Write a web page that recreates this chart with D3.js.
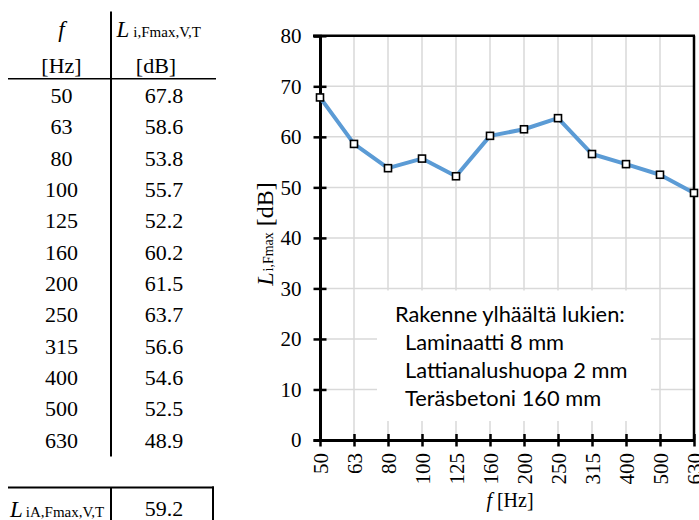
<!DOCTYPE html>
<html><head><meta charset="utf-8">
<script src="https://cdn.jsdelivr.net/npm/d3@7"></script>
<style>body{margin:0;background:#fff}</style>
</head><body>
<svg id="c" width="699" height="520"></svg>
<script>
const freqs = ["50","63","80","100","125","160","200","250","315","400","500","630"];
const levels = [67.8,58.6,53.8,55.7,52.2,60.2,61.5,63.7,56.6,54.6,52.5,48.9];
const levelLabels = ["67.8","58.6","53.8","55.7","52.2","60.2","61.5","63.7","56.6","54.6","52.5","48.9"];
const totalLabel = "59.2";
const yTicks = [0,10,20,30,40,50,60,70,80];
const noteLines = ["Rakenne ylhäältä lukien:","Laminaatti 8 mm","Lattianalushuopa 2 mm","Teräsbetoni 160 mm"];

const serif = "'Liberation Serif','Times New Roman',serif";
const sans = "Lato,'Open Sans',sans-serif";
const svg = d3.select("#c");

// ---------- table ----------
const T = svg.append("g").attr("font-family", serif).attr("fill", "#000");
const rowY = d3.scalePoint().domain(freqs).range([103, 447.5]);
const c1 = 61.5, c2 = 164;
T.append("text").attr("x", c1).attr("y", 37).attr("text-anchor","middle").attr("font-size",23).attr("font-style","italic").text("f");
const h2 = T.append("text").attr("x", 116.5).attr("y", 37).attr("font-size",23);
h2.append("tspan").attr("font-style","italic").text("L");
h2.append("tspan").attr("font-size",15).attr("dx",4).text("i,Fmax,V,T");
T.append("text").attr("x", c1).attr("y", 73).attr("text-anchor","middle").attr("font-size",22).text("[Hz]");
T.append("text").attr("x", 156).attr("y", 73).attr("text-anchor","middle").attr("font-size",22).text("[dB]");
T.selectAll(".f").data(freqs).join("text").attr("class","f")
  .attr("x", c1).attr("y", d => rowY(d)).attr("text-anchor","middle").attr("font-size",22).text(d => d);
T.selectAll(".v").data(levelLabels).join("text").attr("class","v")
  .attr("x", c2).attr("y", (d,i) => rowY(freqs[i])).attr("text-anchor","middle").attr("font-size",22).text(d => d);
T.append("line").attr("x1",111).attr("x2",111).attr("y1",11.5).attr("y2",456.5).attr("stroke","#000").attr("stroke-width",2);
T.append("line").attr("x1",8).attr("x2",216).attr("y1",78.7).attr("y2",78.7).attr("stroke","#000").attr("stroke-width",1.6);
// total row
T.append("line").attr("x1",8).attr("x2",214).attr("y1",487.5).attr("y2",487.5).attr("stroke","#000").attr("stroke-width",2);
T.append("line").attr("x1",111).attr("x2",111).attr("y1",487.5).attr("y2",520).attr("stroke","#000").attr("stroke-width",2);
T.append("line").attr("x1",213).attr("x2",213).attr("y1",486.5).attr("y2",520).attr("stroke","#000").attr("stroke-width",2);
const tl = T.append("text").attr("x", 10).attr("y", 516.5).attr("font-size",23);
tl.append("tspan").attr("font-style","italic").text("L");
tl.append("tspan").attr("font-size",15).attr("dx",3).text("iA,Fmax,V,T");
T.append("text").attr("x", c2).attr("y", 516).attr("text-anchor","middle").attr("font-size",22).text(totalLabel);

// ---------- chart ----------
const x = d3.scalePoint().domain(freqs).range([320, 694]);
const y = d3.scaleLinear().domain([0, 80]).range([440, 35.8]);
const G = svg.append("g");

// gridlines
G.selectAll(".hg").data(yTicks.slice(1, -1)).join("line")
  .attr("x1", 320).attr("x2", 694).attr("y1", d => y(d)).attr("y2", d => y(d))
  .attr("stroke", "#d9d9d9").attr("stroke-width", 1.5);
G.selectAll(".vg").data(freqs.slice(1, -1)).join("line")
  .attr("x1", d => x(d)).attr("x2", d => x(d)).attr("y1", y(80)).attr("y2", y(0))
  .attr("stroke", "#d9d9d9").attr("stroke-width", 1.5);

// note box
G.append("rect").attr("x", 377).attr("y", 290.5).attr("width", 274).attr("height", 130.5).attr("fill", "#fff");
const noteX = [395, 405, 405, 405];
const noteY = [322.3, 350, 378, 405.7];
const note = G.selectAll(".note").data(noteLines).join("text")
  .attr("x", (d,i) => noteX[i]).attr("y", (d,i) => noteY[i])
  .attr("font-family", sans).attr("font-size", 22).attr("fill", "#000").text(d => d);
const w0 = note.nodes()[0].getComputedTextLength();
note.attr("font-size", 22 * 230 / w0);

// frame (top & right)
G.append("line").attr("x1", 313).attr("x2", 695).attr("y1", y(80)).attr("y2", y(80)).attr("stroke", "#000").attr("stroke-width", 2.5);
G.append("line").attr("x1", x("630")).attr("x2", x("630")).attr("y1", y(80)).attr("y2", y(0)).attr("stroke", "#000").attr("stroke-width", 2.5);

// y axis
const ya = G.append("g").attr("transform", `translate(320,0)`)
  .call(d3.axisLeft(y).tickValues(yTicks).tickSize(6.5).tickPadding(12));
ya.select(".domain").attr("stroke-width", 3);
ya.selectAll(".tick line").attr("x1", 6.5).attr("stroke-width", 2.5);
ya.selectAll(".tick text").attr("font-family", serif).attr("font-size", 21).attr("fill", "#000");

// x axis
const xa = G.append("g").attr("transform", `translate(0,440)`)
  .call(d3.axisBottom(x).tickSize(6.5).tickSizeOuter(0));
xa.select(".domain").attr("stroke-width", 3);
xa.selectAll(".tick line").attr("y1", -6).attr("stroke-width", 2.5);
xa.selectAll(".tick text").attr("font-family", serif).attr("font-size", 21).attr("fill", "#000")
  .attr("transform", "translate(0,13) rotate(-90)").attr("text-anchor", "end").attr("x", 0).attr("y", 0).attr("dy", "0.35em");

// axis titles
const xt = G.append("text").attr("x", 510).attr("y", 507).attr("text-anchor", "middle")
  .attr("font-family", serif).attr("font-size", 20);
xt.append("tspan").attr("font-style", "italic").text("f");
xt.append("tspan").text(" [Hz]");
const yt = G.append("text").attr("transform", "translate(273,234) rotate(-90)").attr("text-anchor", "middle")
  .attr("font-family", serif).attr("font-size", 24);
yt.append("tspan").attr("font-style", "italic").text("L");
yt.append("tspan").attr("font-size", 14).attr("dx", 1).text("i,Fmax");
yt.append("tspan").attr("dx", 6).text("[dB]");

// data line
G.append("path").datum(levels)
  .attr("d", d3.line().x((d,i) => x(freqs[i])).y(d => y(d)))
  .attr("fill", "none").attr("stroke", "#5b9bd5").attr("stroke-width", 4).attr("stroke-linejoin", "round");
G.selectAll(".m").data(levels).join("rect")
  .attr("x", (d,i) => x(freqs[i]) - 3.5).attr("y", d => y(d) - 3.5)
  .attr("width", 7).attr("height", 7).attr("fill", "#fff").attr("stroke", "#000").attr("stroke-width", 1.6);
</script>
</body></html>
